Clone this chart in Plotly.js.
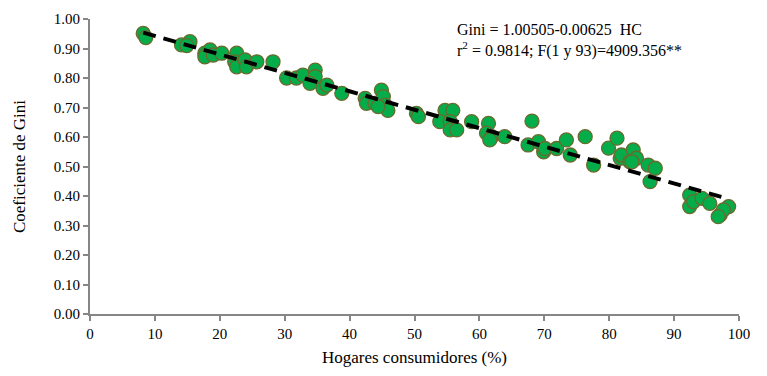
<!DOCTYPE html>
<html>
<head>
<meta charset="utf-8">
<script src="https://cdn.plot.ly/plotly-3.0.1.min.js"></script>
<style>html,body{margin:0;padding:0;background:#fff;}#chart{width:767px;height:376px;}</style>
</head>
<body>
<div id="chart"></div>
<script>
const hc = [8.2, 8.6, 14.1, 15.4, 14.9, 17.7, 18.5, 17.7, 19.0, 20.3,
  22.6, 22.3, 22.6, 23.9, 24.1, 25.7, 28.2, 30.3, 31.8, 32.8,
  34.7, 34.7, 33.9, 35.9, 36.5, 38.8, 42.4, 42.6, 43.9, 44.9,
  45.2, 45.5, 45.9, 44.4, 50.3, 50.6, 54.7, 55.9, 53.9, 55.5,
  55.5, 56.5, 58.8, 61.4, 61.1, 61.9, 61.6, 63.9, 68.1, 67.5,
  69.1, 69.9, 70.1, 71.9, 73.4, 74.0, 76.3, 77.6, 79.9, 81.2,
  81.7, 81.9, 83.2, 83.7, 84.2, 83.5, 86.0, 87.1, 86.3, 92.4,
  92.4, 93.0, 94.3, 95.5, 98.4, 97.1, 97.6, 96.8];
const gini = [0.951, 0.937, 0.912, 0.923, 0.910, 0.884, 0.895, 0.872, 0.878, 0.884,
  0.884, 0.855, 0.838, 0.861, 0.838, 0.855, 0.855, 0.800, 0.800, 0.810,
  0.827, 0.805, 0.782, 0.765, 0.776, 0.748, 0.731, 0.714, 0.714, 0.759,
  0.737, 0.708, 0.690, 0.703, 0.680, 0.669, 0.690, 0.690, 0.652, 0.652,
  0.624, 0.624, 0.652, 0.646, 0.613, 0.601, 0.590, 0.601, 0.654, 0.573,
  0.584, 0.550, 0.561, 0.561, 0.590, 0.539, 0.601, 0.505, 0.562, 0.596,
  0.528, 0.539, 0.516, 0.556, 0.528, 0.516, 0.505, 0.494, 0.449, 0.403,
  0.364, 0.381, 0.392, 0.375, 0.364, 0.336, 0.353, 0.330];
const interceptB0 = 1.00505;
const slopeB1 = -0.00625;
const fitX = [8.2, 98.4];
const fitY = fitX.map(x => interceptB0 + slopeB1 * x);
const xTicks = [0, 10, 20, 30, 40, 50, 60, 70, 80, 90, 100];
const yTicks = [0, 0.1, 0.2, 0.3, 0.4, 0.5, 0.6, 0.7, 0.8, 0.9, 1.0];

const font = '"Liberation Serif", "Times New Roman", serif';
const axisColor = '#868686';

const traces = [
  {
    x: hc, y: gini, type: 'scatter', mode: 'markers',
    marker: {size: 14, color: '#05AD4A', line: {color: '#6B6A2E', width: 1.3}},
    hoverinfo: 'x+y', showlegend: false
  },
  {
    x: fitX, y: fitY, type: 'scatter', mode: 'lines',
    line: {color: '#000000', width: 4, dash: '13px,8px'},
    showlegend: false
  }
];

const layout = {
  width: 767, height: 376,
  margin: {l: 90, r: 28, t: 19, b: 62},
  paper_bgcolor: '#ffffff', plot_bgcolor: '#ffffff',
  font: {family: font, size: 15, color: '#000000'},
  xaxis: {
    range: [0, 100], tickvals: xTicks, ticktext: xTicks.map(String),
    showgrid: false, zeroline: false, showline: true, linecolor: axisColor, linewidth: 2,
    ticks: 'outside', ticklen: 5, tickwidth: 2, tickcolor: axisColor,
    tickfont: {family: font, size: 15},
    title: {text: 'Hogares consumidores (%)', font: {family: font, size: 17}, standoff: 10}
  },
  yaxis: {
    range: [0, 1.0], tickvals: yTicks, ticktext: yTicks.map(v => v.toFixed(2)),
    showgrid: false, zeroline: false, showline: true, linecolor: axisColor, linewidth: 2,
    ticks: 'outside', ticklen: 5, tickwidth: 2, tickcolor: axisColor,
    tickfont: {family: font, size: 15},
    title: {text: 'Coeficiente de Gini', font: {family: font, size: 17}, standoff: 24}
  },
  annotations: [
    {
      xref: 'paper', yref: 'paper', x: 0.562, y: 1.0, xanchor: 'left', yanchor: 'top',
      align: 'left', showarrow: false,
      text: 'Gini = 1.00505-0.00625  HC<br>r<sup>2</sup> = 0.9814; F(1 y 93)=4909.356**',
      font: {family: font, size: 16, color: '#000000'}
    }
  ]
};

Plotly.newPlot('chart', traces, layout, {displayModeBar: false, staticPlot: true});
</script>
</body>
</html>
